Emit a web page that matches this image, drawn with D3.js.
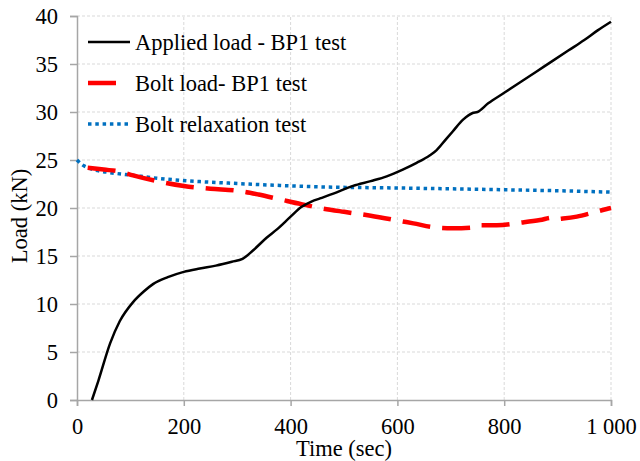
<!DOCTYPE html>
<html>
<head>
<meta charset="utf-8">
<script src="https://cdn.jsdelivr.net/npm/d3@7"></script>
<style>
body { margin: 0; background: white; }
svg text { font-family: "Liberation Serif", "DejaVu Serif", "Times New Roman", serif !important; }
</style>
</head>
<body>
<div id="chart"></div>
<script>
let width = 640;
let height = 461;

// data
let appliedTime = [28, 40, 62, 80, 105, 125, 143, 170, 200, 230, 260, 290, 310, 330, 355, 375, 400, 420, 440, 455, 480, 517, 550, 580, 610, 636, 661, 673, 690, 704, 723, 741, 750, 770, 800, 830, 860, 890, 920, 950, 975, 1000];
let appliedLoad = [0, 2.0, 5.9, 8.2, 10.2, 11.3, 12.1, 12.8, 13.35, 13.7, 14.0, 14.4, 14.7, 15.6, 16.9, 17.8, 19.1, 20.1, 20.7, 21.0, 21.5, 22.3, 22.8, 23.3, 24.0, 24.7, 25.5, 26.0, 27.1, 28.0, 29.2, 29.9, 30.0, 30.9, 32.0, 33.1, 34.2, 35.3, 36.4, 37.5, 38.5, 39.4];

let boltTime = [20, 50, 80, 105, 150, 200, 250, 300, 340, 380, 420, 455, 500, 550, 610, 630, 667, 693, 720, 740, 750, 786, 835, 867, 891, 900, 910, 936, 965, 992, 1000];
let boltLoad = [24.2, 24.0, 23.8, 23.4, 22.8, 22.3, 22.0, 21.8, 21.4, 20.9, 20.4, 20.0, 19.6, 19.2, 18.6, 18.4, 18.0, 17.9, 17.9, 17.95, 18.2, 18.2, 18.5, 18.75, 19.0, 18.85, 18.9, 19.1, 19.5, 19.9, 20.0];

let relaxTime = [0, 10, 20, 30, 60, 105, 150, 230, 300, 380, 455, 580, 700, 800, 900, 1000];
let relaxLoad = [25.0, 24.5, 24.2, 24.0, 23.7, 23.4, 23.1, 22.75, 22.55, 22.35, 22.2, 22.1, 22.0, 21.9, 21.8, 21.65];

let xTicks = [0, 200, 400, 600, 800, 1000];
let yTicks = [0, 5, 10, 15, 20, 25, 30, 35, 40];

let seriesNames = ["Applied load - BP1 test", "Bolt load- BP1 test", "Bolt relaxation test"];

let serif = "'Liberation Serif', 'DejaVu Serif', 'Times New Roman', serif";

let svg = d3.select("#chart")
	.append("svg")
	.attr("width", width)
	.attr("height", height)
	.style("background-color", "white");

let x = d3.scaleLinear().domain([0, 1000]).range([77, 611]);
let y = d3.scaleLinear().domain([0, 40]).range([400, 16]);

/*---------------- grid ----------------*/

svg.append("g").selectAll("line")
	.data(yTicks.slice(1))
	.enter().append("line")
	.attr("x1", x(0)).attr("x2", x(1000))
	.attr("y1", d => y(d)).attr("y2", d => y(d))
	.attr("stroke", "#d9d9d9")
	.attr("stroke-dasharray", "3,2");

svg.append("g").selectAll("line")
	.data(xTicks.slice(1))
	.enter().append("line")
	.attr("x1", d => x(d)).attr("x2", d => x(d))
	.attr("y1", y(0)).attr("y2", y(40))
	.attr("stroke", "#d9d9d9")
	.attr("stroke-dasharray", "3,2");

/*---------------- axes ----------------*/

let xAxis = svg.append("g")
	.attr("transform", "translate(0," + y(0) + ")")
	.call(d3.axisBottom(x).tickValues(xTicks).tickSize(6).tickPadding(12)
		.tickFormat(d => d === 1000 ? "1 000" : d));

let yAxis = svg.append("g")
	.attr("transform", "translate(" + x(0) + ",0)")
	.call(d3.axisLeft(y).tickValues(yTicks).tickSize(7).tickPadding(12));

[xAxis, yAxis].forEach(function(a) {
	a.attr("font-family", serif).attr("font-size", 22.5);
	a.select(".domain").attr("stroke", "#a6a6a6").attr("stroke-width", 1.5);
	a.selectAll(".tick line").attr("stroke", "#a6a6a6").attr("stroke-width", 1.5);
	a.selectAll("text").attr("fill", "black");
});

svg.append("text")
	.attr("x", 344)
	.attr("y", 456)
	.attr("text-anchor", "middle")
	.attr("font-family", serif)
	.attr("font-size", 22.5)
	.text("Time (sec)");

svg.append("text")
	.attr("transform", "translate(27,216) rotate(-90)")
	.attr("text-anchor", "middle")
	.attr("font-family", serif)
	.attr("font-size", 22.5)
	.text("Load (kN)");

/*---------------- lines ----------------*/

let line = d3.line().curve(d3.curveMonotoneX).x(d => x(d[0])).y(d => y(d[1]));

let styles = [
	{color: "#000000", width: 2.5, dash: null},
	{color: "#ff0000", width: 4.5, dash: "28,12"},
	{color: "#0070c0", width: 3.5, dash: "3.5,3.8"}
];

let series = [
	d3.zip(appliedTime, appliedLoad),
	d3.zip(boltTime, boltLoad),
	d3.zip(relaxTime, relaxLoad)
];

// draw order: relaxation, bolt, applied on top
[2, 1, 0].forEach(function(i) {
	svg.append("path")
		.datum(series[i])
		.attr("d", line)
		.attr("fill", "none")
		.attr("stroke", styles[i].color)
		.attr("stroke-width", styles[i].width)
		.attr("stroke-dasharray", styles[i].dash)
		.attr("stroke-linejoin", "round");
});

/*---------------- legend ----------------*/

let legend = svg.append("g").selectAll(".legends")
	.data(seriesNames)
	.enter().append("g").classed("legends", true)
	.attr("transform", (d, i) => "translate(88," + (42 + i * 41) + ")");

legend.append("line")
	.attr("x1", 0).attr("x2", (d, i) => i === 1 ? 31 : 42)
	.attr("y1", 0).attr("y2", 0)
	.attr("stroke", (d, i) => styles[i].color)
	.attr("stroke-width", (d, i) => styles[i].width)
	.attr("stroke-dasharray", (d, i) => styles[i].dash);

legend.append("text")
	.attr("x", 47)
	.attr("y", 7.5)
	.attr("font-family", serif)
	.attr("font-size", 22.5)
	.text(d => d);
</script>
</body>
</html>
